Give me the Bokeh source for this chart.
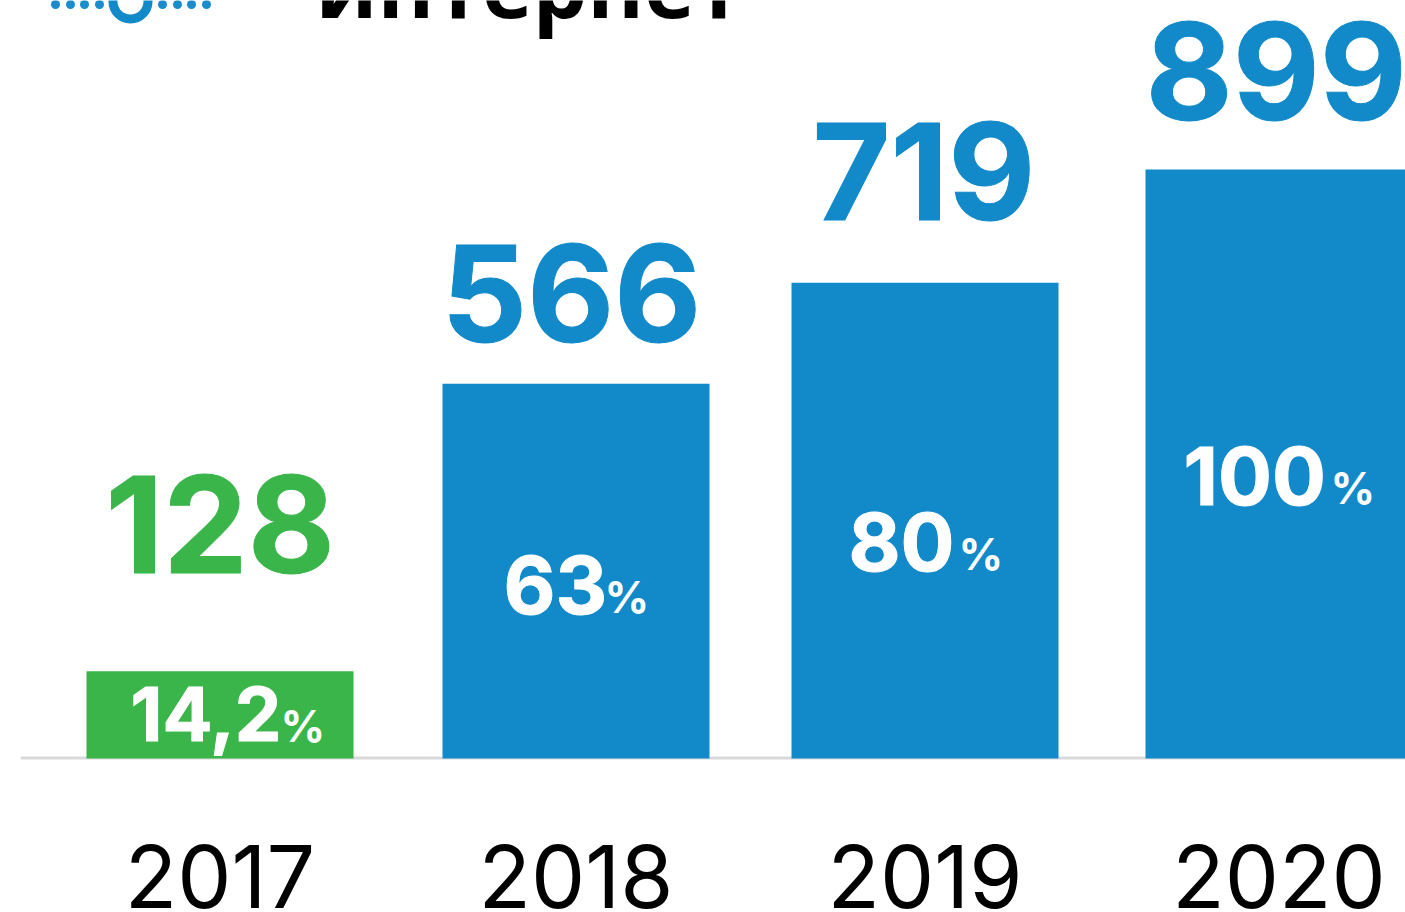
from bokeh.plotting import figure
from bokeh.models import FixedTicker, Range1d
from bokeh.core.properties import value
from bokeh.embed import file_html
from bokeh.resources import INLINE

# ---- data
years = ["2017", "2018", "2019", "2020"]
totals = ["128", "566", "719", "899"]
shares = ["14,2", "63", "80", "100"]
bar_lengths = [133, 572, 726, 899]
bar_colors = ["#3ab54a", "#1289c9", "#1289c9", "#1289c9"]
title_word = "интернет"

# ---- layout (pixels of the page)
W, H = 1405, 912
BASE = 758
FRAME_BOTTOM = 790
PX_PER_UNIT = 589 / 899
def vy(py):
    return (BASE - py) / PX_PER_UNIT

centers = [219.5, 575.5, 924.5, 1278.5]
total_x = [105, 441, 812, 1145]
total_base = [524, 293, 171, 71]
share_x = [130, 503, 848, 1183]
share_base = [713, 584, 541, 475]
share_sizes = ["74px", "80px", "80px", "80px"]
pct_x = [280, 604, 958, 1330]
pct_base = [725, 596, 553, 487]

p = figure(width=W, height=H, output_backend="svg", toolbar_location=None,
           x_range=Range1d(20, W), y_range=Range1d(vy(FRAME_BOTTOM), vy(0)),
           min_border_left=20, min_border_right=0, min_border_top=0, min_border_bottom=H - FRAME_BOTTOM,
           background_fill_color="white", border_fill_color="white", outline_line_color=None)
p.styles = {"position": "absolute", "left": "0px", "top": "0px"}
p.yaxis.visible = False
p.xgrid.visible = False
p.ygrid.visible = False

ax = p.xaxis[0]
ax.ticker = FixedTicker(ticks=centers)
ax.major_label_overrides = {c: y for c, y in zip(centers, years)}
ax.axis_line_color = None
ax.major_tick_line_color = None
ax.minor_tick_line_color = None
ax.major_label_text_font = "Inter"
ax.major_label_text_font_size = "86px"
ax.major_label_text_color = "#000000"
ax.major_label_standoff = 48

# baseline
p.segment(x0=[20], x1=[W], y0=[vy(757.5)], y1=[vy(757.5)], line_color="#d9d9d9", line_width=3)

# bars
p.vbar(x=centers, width=267, bottom=0, top=bar_lengths, fill_color=bar_colors, line_color=None)

# totals above bars
p.text(x=total_x, y=[vy(b) for b in total_base], text=totals,
       text_color=bar_colors, text_font=value("Inter"), text_font_style="bold",
       text_font_size="134px", text_align="left", text_baseline="alphabetic",
       text_outline_color=bar_colors)
# share in bars
p.text(x=share_x, y=[vy(b) for b in share_base], text=shares,
       text_color="#ffffff", text_font=value("Inter"), text_font_style="bold",
       text_font_size=share_sizes, text_align="left", text_baseline="alphabetic",
       text_outline_color="#ffffff")
p.text(x=pct_x, y=[vy(b) for b in pct_base], text=["%"] * 4,
       text_color="#ffffff", text_font=value("Inter"), text_font_style="bold",
       text_font_size="44px", text_align="left", text_baseline="alphabetic")

# clipped title
p.text(x=[315], y=[vy(-16)], text=[title_word], text_color="#000000",
       text_font=value("Open Sans"), text_font_style="bold", text_font_size="86px",
       text_align="left", text_baseline="alphabetic")

# logo
p.scatter(x=[55, 70, 84, 99, 162, 177, 191, 206], y=[vy(4)] * 8, size=9, marker="circle",
          fill_color="#1a8ccc", line_color=None)
p.scatter(x=[130], y=[vy(1)], size=35, marker="circle", fill_color=None,
          line_color="#1289c9", line_width=9)

open("out.html", "w").write(file_html(p, INLINE))
